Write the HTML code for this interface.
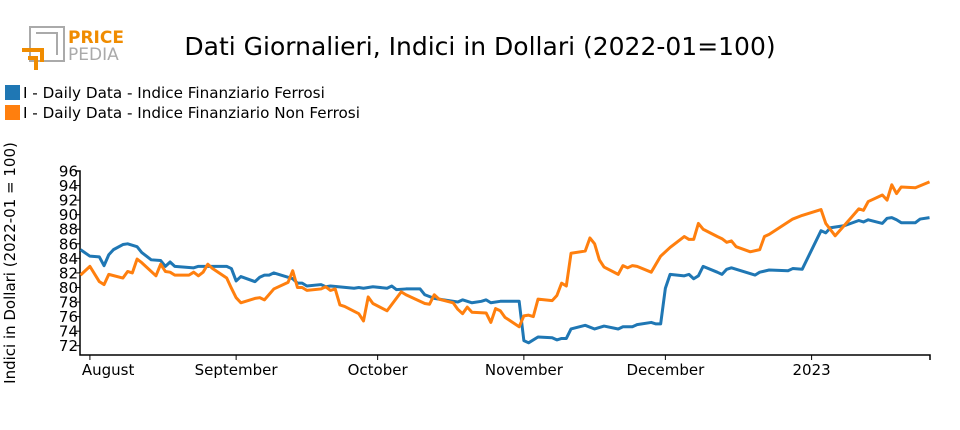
<!DOCTYPE html>
<html><head><meta charset="utf-8"><style>
body{margin:0;background:#fff;width:960px;height:430px;overflow:hidden;font-family:"DejaVu Sans","Liberation Sans",sans-serif}
svg{display:block}
</style></head><body>
<svg id="chart" width="960" height="430">
<g>
<rect x="30" y="27" width="34" height="34" fill="none" stroke="#aaa" stroke-width="2"/>
<path d="M36 33 H57 V55" fill="none" stroke="#aaa" stroke-width="2"/>
<path d="M22 50 H42 V62" fill="none" stroke="#f08c00" stroke-width="4"/>
<path d="M28 58 H36 V70" fill="none" stroke="#f08c00" stroke-width="4"/>
<text x="68" y="43" font-size="17" font-weight="bold" fill="#f08c00">PRICE</text>
<text x="68" y="60" font-size="17" fill="#aaa">PEDIA</text>
</g>
<text x="480" y="55" font-size="25" text-anchor="middle" fill="#000">Dati Giornalieri, Indici in Dollari (2022-01=100)</text>
<g>
<rect x="5" y="85" width="15" height="15" fill="#1f77b4"/>
<text x="23" y="98" font-size="15.2">I - Daily Data - Indice Finanziario Ferrosi</text>
<rect x="5" y="105" width="15" height="15" fill="#ff7f0e"/>
<text x="23" y="118" font-size="15.2">I - Daily Data - Indice Finanziario Non Ferrosi</text>
</g>
<text transform="translate(15,263) rotate(-90)" font-size="15" text-anchor="middle">Indici in Dollari (2022-01 = 100)</text>
<g id="axes"></g>
<g id="series"></g>
</svg>
<script>
// day offsets from 2022-08-01
const blueDays=[-2,0,2,3,4,5,7,8,10,11,13,15,16,17,18,22,23,29,30,31,32,35,36,37,38,39,43,44,45,46,49,50,51,56,57,58,60,63,64,65,67,70,71,73,75,78,79,81,83,84,85,87,91,92,93,95,98,99,100,101,102,105,107,109,112,113,115,116,119,120,121,122,123,126,127,128,129,130,133,134,135,136,141,142,144,148,149,151,155,156,157,160,163,164,165,168,169,170,171,172,175,176,178];
const blueVals=[85.2,84.3,84.2,83.0,84.5,85.2,85.9,86.0,85.6,84.8,83.8,83.7,82.9,83.5,82.9,82.7,82.9,82.9,82.6,80.9,81.5,80.8,81.4,81.7,81.7,82.0,81.2,80.6,80.6,80.2,80.4,80.1,80.2,79.9,80.0,79.9,80.1,79.9,80.2,79.7,79.8,79.8,79.0,78.5,78.3,78.0,78.3,77.9,78.1,78.3,77.9,78.1,78.1,72.7,72.4,73.2,73.1,72.8,73.0,73.0,74.3,74.8,74.3,74.7,74.3,74.6,74.6,74.9,75.2,75.0,75.0,79.9,81.8,81.6,81.8,81.2,81.6,82.9,82.1,81.8,82.5,82.7,81.7,82.1,82.4,82.3,82.6,82.5,87.8,87.5,88.2,88.5,89.2,89.0,89.3,88.8,89.5,89.6,89.3,88.9,88.9,89.4,89.6];
const orangeDays=[-2,0,2,3,4,7,8,9,10,11,14,15,16,17,18,21,22,23,24,25,26,29,30,31,32,35,36,37,39,42,43,44,45,46,49,50,51,52,53,54,57,58,59,60,63,66,67,69,71,72,73,74,77,78,79,80,81,84,85,86,87,88,91,92,93,94,95,98,99,100,101,102,105,106,107,108,109,112,113,114,115,116,119,121,123,126,127,128,129,130,133,134,135,136,137,140,142,143,144,149,151,155,156,158,161,163,164,165,168,169,170,171,172,175,178];
const orangeVals=[81.7,82.9,80.8,80.4,81.8,81.3,82.2,82.0,83.9,83.4,81.6,83.2,82.2,82.1,81.7,81.7,82.1,81.6,82.1,83.2,82.6,81.3,79.9,78.6,77.9,78.5,78.6,78.3,79.8,80.7,82.3,80.0,80.0,79.6,79.8,80.1,79.6,79.8,77.6,77.4,76.4,75.4,78.7,77.8,76.8,79.4,79.0,78.4,77.8,77.7,79.0,78.4,77.9,77.0,76.4,77.3,76.6,76.5,75.2,77.1,76.8,75.9,74.6,76.1,76.2,76.0,78.4,78.2,78.9,80.6,80.2,84.7,85.0,86.8,86.0,83.8,82.8,81.8,83.0,82.7,83.0,82.9,82.1,84.3,85.5,87.0,86.6,86.6,88.8,88.0,87.0,86.7,86.2,86.4,85.6,84.9,85.2,87.0,87.3,89.4,89.9,90.7,88.8,87.1,89.3,90.8,90.6,91.8,92.7,92.0,94.1,92.9,93.8,93.7,94.5];
const yTicks=[72,74,76,78,80,82,84,86,88,90,92,94,96];
const xTickDays=[0,31,61,92,122,153];
const xTickLabels=["August","September","October","November","December","2023"];

const NS="http://www.w3.org/2000/svg";
const X0=80,X1=930,Y0=355;
const dMin=-2.1,dMax=178.1;
function xs(d){return X0+(d-dMin)/(dMax-dMin)*(X1-X0);}
function ys(v){return 171+(96-v)*7.28;}
function mk(tag,attrs,parent){const e=document.createElementNS(NS,tag);for(const k in attrs)e.setAttribute(k,attrs[k]);parent.appendChild(e);return e;}
const ax=document.getElementById('axes');
const yAxis=mk('path',{d:`M${X0-5} ${ys(96)} H${X0} V${Y0} H${X1} V${Y0+5}`,fill:'none',stroke:'#000','stroke-width':1.5},ax);


yTicks.forEach(v=>{
  const t=mk('line',{x1:X0-5,x2:X0,y1:ys(v),y2:ys(v),stroke:'#000'},ax);
  
  
  const l=mk('text',{x:X0-2,y:ys(v)+5.5,'font-size':15,'text-anchor':'end'},ax);
  l.textContent=v;
  
  
});
xTickDays.forEach((d,i)=>{
  const t=mk('line',{x1:xs(d),x2:xs(d),y1:Y0,y2:Y0+5,stroke:'#000'},ax);
  
  
  const l=mk('text',{x:xs(d),y:375,'font-size':15,'text-anchor':i==0?'start':'middle'},ax);
  if(i==0)l.setAttribute('x',xs(d)-8);
  l.textContent=xTickLabels[i];
  
  
});
const sg=document.getElementById('series');
function line(days,vals,color,name){
  const p=mk('polyline',{points:days.map((d,i)=>xs(d)+','+ys(vals[i])).join(' '),fill:'none',stroke:color,'stroke-width':3,'stroke-linejoin':'round'},sg);
  
  
}
line(blueDays,blueVals,'#1f77b4','line-ferrosi');
line(orangeDays,orangeVals,'#ff7f0e','line-non-ferrosi');
</script>
</body></html>
